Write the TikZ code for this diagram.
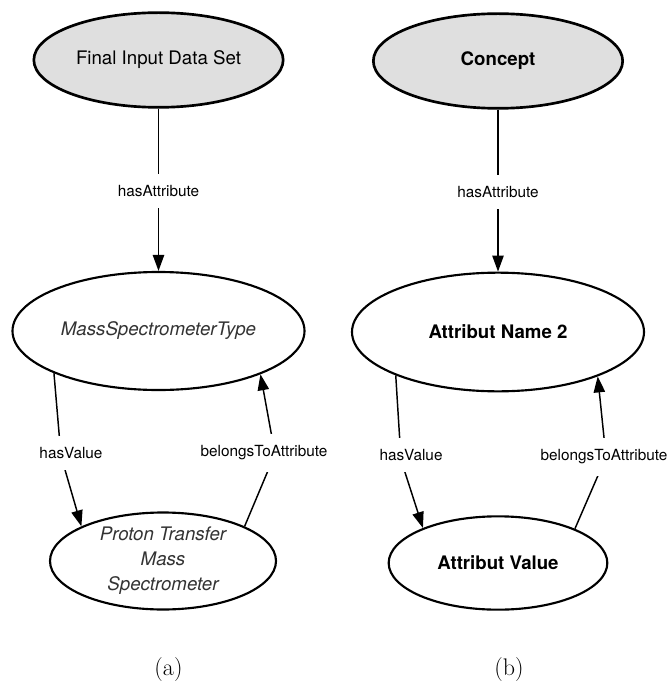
\documentclass[tikz,border=0pt]{standalone}
\usepackage{fontspec}
\usepackage{xcolor}
\usepackage{tikz}
\usetikzlibrary{arrows.meta, shapes.geometric}

\newfontfamily\helv{TeX Gyre Heros}
\definecolor{classgray}{HTML}{DFDFDF}

\begin{document}
\begin{tikzpicture}[
    x=0.75pt, y=-0.75pt,
    >={Triangle[length=12pt, width=8.5pt]},
    class/.style={draw, ellipse, line width=2pt, fill=classgray, inner sep=0pt,
        minimum width=187pt, minimum height=71pt, font=\helv\fontsize{14}{17}\selectfont},
    attr/.style={draw, ellipse, line width=1.6pt, fill=white, inner sep=0pt, align=center,
        font=\helv\fontsize{14}{18.75}\selectfont},
    instance/.style={attr, font=\helv\itshape\fontsize{14}{18.75}\selectfont, text=black!80},
    schema/.style={attr, font=\helv\bfseries\fontsize{14}{18.75}\selectfont},
    rel/.style={fill=white, inner xsep=1pt, inner ysep=8.5pt, font=\helv\fontsize{11.5}{13}\selectfont},
    arrow/.style={->, line width=1.1pt},
    caption/.style={font=\fontsize{18}{22}\selectfont}
]
    \useasboundingbox (0,0) rectangle (670,684);

    % (a) instance level
    \node[class] (fids) at (158.5,60) {Final Input Data Set};
    \node[instance, minimum width=219pt, minimum height=88.5pt] (mst) at (158.5,331) {MassSpectrometerType};
    \node[instance, minimum width=169.5pt, minimum height=72.75pt] (ptms) at (163,561)
        {Proton Transfer\\ Mass\\ Spectrometer};

    \draw[arrow] (fids) -- node[rel, pos=0.51] (fidsattr) {hasAttribute} (mst);

    \coordinate (hvbend) at (61,456);
    \draw[arrow] (mst.202.5) -- (hvbend) -- (ptms.157);
    \node[rel] (hvlabel) at (71,453) {hasValue};

    \coordinate (btbend) at (275,454);
    \draw[arrow] (ptms.23) -- (btbend) -- (mst.337.9);
    \node[rel] (btlabel) at (264,453) {belongsToAttribute};

    % (b) schema level
    \node[class, font=\helv\bfseries\fontsize{14}{17}\selectfont] (concept) at (498,61) {Concept};
    \node[schema, minimum width=219pt, minimum height=89pt] (an2) at (498,332) {Attribut Name 2};
    \node[schema, minimum width=164pt, minimum height=70pt] (av) at (498,563) {Attribut Value};

    \draw[arrow] (concept) -- node[rel, pos=0.51] (conattr) {hasAttribute} (an2);

    \coordinate (hvbend2) at (401,460);
    \draw[arrow] (an2.203.6) -- (hvbend2) -- (av.155.3);
    \node[rel] (hvlabel2) at (411,455) {hasValue};

    \coordinate (btbend2) at (606,457);
    \draw[arrow] (av.24.4) -- (btbend2) -- (an2.336.1);
    \node[rel] (btlabel2) at (604,457) {belongsToAttribute};

    \node[caption] (capa) at (168.5,670) {(a)};
    \node[caption] (capb) at (509,670) {(b)};
\end{tikzpicture}
\end{document}
